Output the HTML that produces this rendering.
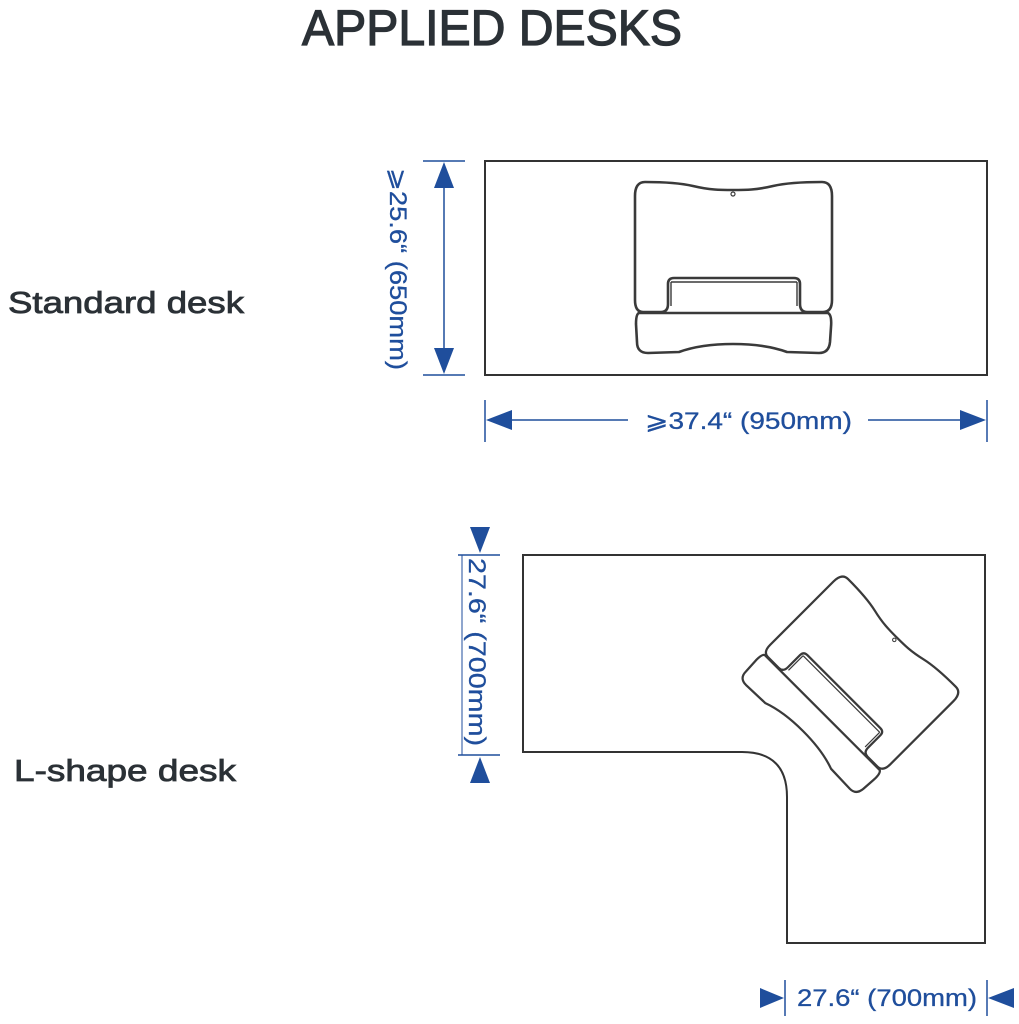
<!DOCTYPE html>
<html><head><meta charset="utf-8"><style>
html,body{margin:0;padding:0;background:#fff;}
svg{display:block;}
</style></head><body>
<svg width="1019" height="1024" viewBox="0 0 1019 1024" xmlns="http://www.w3.org/2000/svg">
<defs>
<g id="conv" fill="none" stroke="#3a3a3a" stroke-width="2.6" stroke-linejoin="round">
  <path d="M10,0 C30,0 45,1 58,4 C75,8 85,8 98,8 C111,8 121,8 138,4 C151,1 166,0 187,0 Q197,0 197,14 L197,118 Q197,130 188,130 L172,130 Q165,130 165,122 L165,102 Q165,96 159,96 L39,96 Q33,96 33,102 L33,122 Q33,130 26,130 L8,130 Q0,130 0,118 L0,14 Q0,0 10,0 Z"/>
  <path d="M36,100 L36,124 M162,100 L162,124 M36,100 L162,100" stroke-width="1.4"/>
  <path d="M4,131 L193,131 Q197,133 196,145 L195,160 Q194,171 184,171 L152,170 Q130,162 98,162 Q66,162 44,170 L13,171 Q2,171 2,160 L1,142 Q1,132 4,131 Z"/>
  <circle cx="98" cy="12" r="2" stroke-width="1.2"/>
</g>
</defs>

<text x="302" y="45" font-family="Liberation Sans, sans-serif" font-size="50" fill="#2b3136" stroke="#2b3136" stroke-width="1.3" textLength="380" lengthAdjust="spacingAndGlyphs">APPLIED DESKS</text>

<text x="8" y="313" font-family="Liberation Sans, sans-serif" font-size="31" fill="#2b3136" stroke="#2b3136" stroke-width="0.8" textLength="236" lengthAdjust="spacingAndGlyphs">Standard desk</text>
<text x="14" y="781" font-family="Liberation Sans, sans-serif" font-size="31" fill="#2b3136" stroke="#2b3136" stroke-width="0.8" textLength="222" lengthAdjust="spacingAndGlyphs">L-shape desk</text>

<rect x="485" y="161" width="502" height="214" fill="none" stroke="#333" stroke-width="2"/>
<use href="#conv" transform="translate(635,182)"/>

<g stroke="#1f4e9c" stroke-width="1.5" fill="#1f4e9c">
  <line x1="423" y1="161" x2="465" y2="161"/>
  <line x1="423" y1="375" x2="465" y2="375"/>
  <line x1="444" y1="175" x2="444" y2="360"/>
  <polygon points="444,162 434,188 454,188" stroke="none"/>
  <polygon points="444,374 434,348 454,348" stroke="none"/>
  <line x1="485" y1="400" x2="485" y2="442"/>
  <line x1="987" y1="400" x2="987" y2="442"/>
  <line x1="495" y1="420" x2="628" y2="420"/>
  <line x1="868" y1="420" x2="975" y2="420"/>
  <polygon points="486,420 512,410 512,430" stroke="none"/>
  <polygon points="986,420 960,410 960,430" stroke="none"/>
</g>
<text transform="translate(390,269) rotate(90)" text-anchor="middle" font-family="Liberation Sans, DejaVu Sans, sans-serif" font-size="24" fill="#1f4e9c" stroke="#1f4e9c" stroke-width="0.3" textLength="202" lengthAdjust="spacingAndGlyphs">⩾25.6“ (650mm)</text>
<text x="645" y="429" font-family="Liberation Sans, DejaVu Sans, sans-serif" font-size="24" fill="#1f4e9c" stroke="#1f4e9c" stroke-width="0.3" textLength="207" lengthAdjust="spacingAndGlyphs">⩾37.4“ (950mm)</text>

<path d="M523,555 L985,555 L985,943 L787,943 L787,797 Q787,752 742,752 L523,752 Z" fill="none" stroke="#333" stroke-width="2"/>
<g stroke-width="3"><use href="#conv" transform="translate(842,573) rotate(45) scale(0.86)"/></g>

<g stroke="#1f4e9c" stroke-width="1.5" fill="#1f4e9c">
  <line x1="458" y1="555" x2="500" y2="555"/>
  <line x1="458" y1="755" x2="500" y2="755"/>
  <line x1="462" y1="555" x2="462" y2="755" stroke-width="1"/>
  <polygon points="480,553 470,527 490,527" stroke="none"/>
  <polygon points="480,757 470,783 490,783" stroke="none"/>
  <line x1="785" y1="980" x2="785" y2="1016"/>
  <line x1="987" y1="980" x2="987" y2="1016"/>
  <polygon points="784,998 760,988 760,1008" stroke="none"/>
  <polygon points="988,998 1014,988 1014,1008" stroke="none"/>
</g>
<text transform="translate(469,652) rotate(90)" text-anchor="middle" font-family="Liberation Sans, sans-serif" font-size="24" fill="#1f4e9c" stroke="#1f4e9c" stroke-width="0.3" textLength="188" lengthAdjust="spacingAndGlyphs">27.6“ (700mm)</text>
<text x="797" y="1006" font-family="Liberation Sans, sans-serif" font-size="24" fill="#1f4e9c" stroke="#1f4e9c" stroke-width="0.3" textLength="180" lengthAdjust="spacingAndGlyphs">27.6“ (700mm)</text>
</svg>
</body></html>
